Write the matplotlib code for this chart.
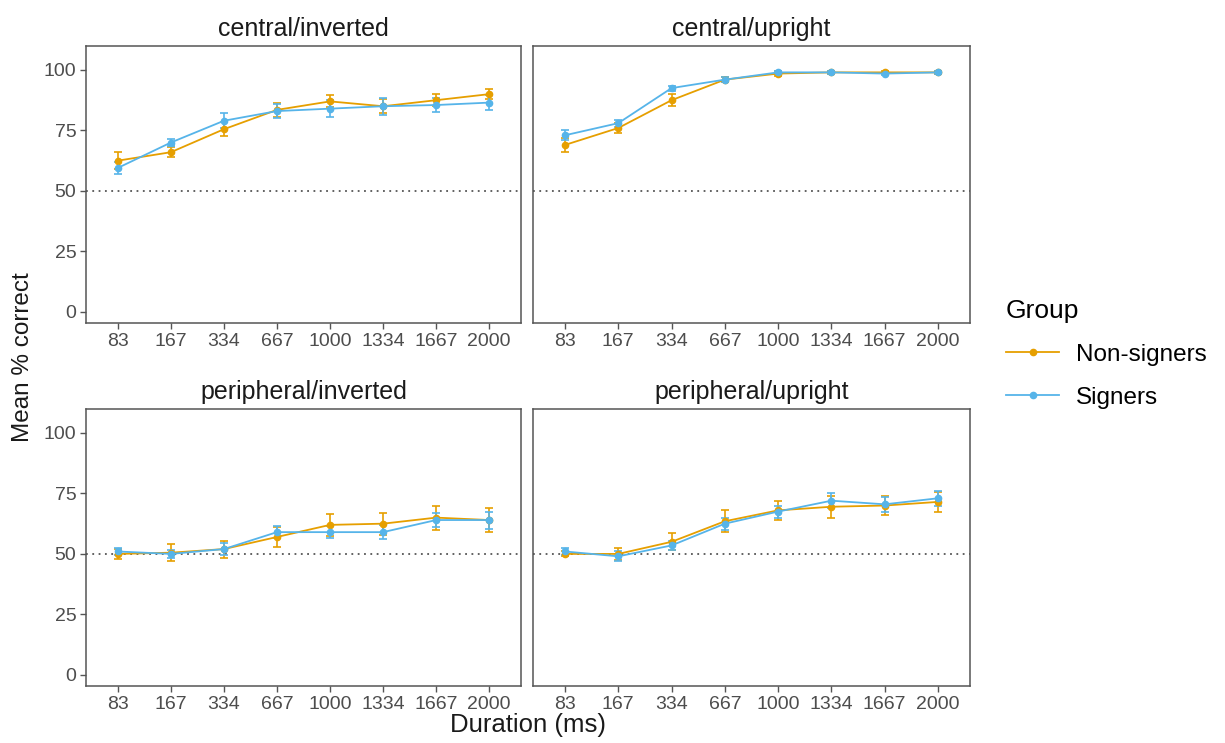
import matplotlib
matplotlib.use('Agg')
import matplotlib.pyplot as plt
import numpy as np
from matplotlib.lines import Line2D

# ----------------------------------------------------------------------------------------------------------------------
# data
durations = ['83', '167', '334', '667', '1000', '1334', '1667', '2000']
panels = ['central/inverted', 'central/upright', 'peripheral/inverted', 'peripheral/upright']
groups = ['Non-signers', 'Signers']
group_colors = ['#E69F00', '#56B4E9']

nonsigners_mean = {
    'central/inverted': [62.5, 66.0, 75.5, 83.5, 87.0, 85.0, 87.5, 90.0],
    'central/upright': [69.0, 76.0, 87.5, 96.0, 98.5, 99.0, 99.0, 99.0],
    'peripheral/inverted': [50.0, 50.5, 52.0, 57.0, 62.0, 62.5, 65.0, 64.0],
    'peripheral/upright': [50.0, 50.0, 55.0, 63.5, 68.0, 69.5, 70.0, 71.5],
}
signers_mean = {
    'central/inverted': [59.5, 70.0, 79.0, 83.0, 84.0, 85.0, 85.5, 86.5],
    'central/upright': [73.0, 78.0, 92.5, 96.0, 99.0, 99.0, 98.5, 99.0],
    'peripheral/inverted': [51.0, 50.0, 52.0, 59.0, 59.0, 59.0, 64.0, 64.0],
    'peripheral/upright': [51.0, 49.0, 53.5, 62.5, 67.5, 72.0, 70.5, 73.0],
}
nonsigners_err = {
    'central/inverted': [3.5, 2.0, 3.0, 3.0, 2.5, 3.0, 2.5, 2.0],
    'central/upright': [3.0, 2.0, 2.5, 1.0, 1.0, 0.5, 0.5, 0.5],
    'peripheral/inverted': [2.0, 3.5, 3.5, 4.0, 4.5, 4.5, 5.0, 5.0],
    'peripheral/upright': [1.0, 2.5, 3.5, 4.5, 4.0, 4.5, 4.0, 4.0],
}
signers_err = {
    'central/inverted': [2.5, 1.5, 3.0, 3.0, 3.5, 3.5, 3.0, 3.0],
    'central/upright': [2.0, 1.5, 1.0, 1.0, 0.5, 0.5, 0.5, 0.5],
    'peripheral/inverted': [1.5, 1.5, 2.5, 2.5, 2.5, 3.0, 3.0, 3.5],
    'peripheral/upright': [1.5, 2.0, 2.0, 2.5, 2.5, 3.0, 3.0, 3.0],
}
y_ticks = [0, 25, 50, 75, 100]
chance_level = 50
# ----------------------------------------------------------------------------------------------------------------------

plt.rcParams['font.family'] = ['Liberation Sans', 'DejaVu Sans']

fig = plt.figure(figsize=(12.25, 7.43), dpi=100)
W, H = 1225.0, 743.0

# panel boxes in pixels (left, top, right, bottom)
boxes = [(86, 46, 521, 323), (533, 46, 970, 323), (86, 409, 521, 686), (533, 409, 970, 686)]

x_pos = np.arange(1, len(durations) + 1)
tick_col = '#4D4D4D'
frame_col = '#555555'

for i_panel, (name, box) in enumerate(zip(panels, boxes)):
    l, t, r, b = box
    ax = fig.add_axes([l / W, 1 - b / H, (r - l) / W, (b - t) / H])

    ax.axhline(chance_level, color='#555555', linestyle=(0, (1, 2.5)), linewidth=1.3, zorder=1)

    for means, errs, color in [(nonsigners_mean, nonsigners_err, group_colors[0]),
                               (signers_mean, signers_err, group_colors[1])]:
        ax.errorbar(x_pos, means[name], yerr=errs[name], color=color, linewidth=1.3,
                    elinewidth=1.2, capsize=3, capthick=1.2, marker='o', markersize=4.5, zorder=3)

    ax.set_xlim(0.4, 8.6)
    ax.set_ylim(-4.6, 109.9)
    ax.set_xticks(x_pos)
    ax.set_xticklabels(durations)
    if i_panel in (1, 3):
        ax.set_yticks([])
    else:
        ax.set_yticks(y_ticks)
    ax.tick_params(axis='both', colors=frame_col, labelcolor=tick_col, labelsize=14,
                   length=4, width=1, pad=3)
    for spine in ax.spines.values():
        spine.set_color(frame_col)
        spine.set_linewidth(1.1)
    ax.set_title(name, fontsize=18, color='#1A1A1A', pad=7)

fig.text(528 / W, 1 - 725 / H, 'Duration (ms)', ha='center', va='center', fontsize=18.5, color='#1A1A1A')
fig.text(23 / W, 1 - 357 / H, 'Mean % correct', ha='center', va='center', rotation=90,
         fontsize=17.5, color='#1A1A1A')

# legend
handles = [Line2D([0], [0], color=c, marker='o', markersize=4.5, linewidth=1.3) for c in group_colors]
leg = fig.legend(handles, groups, title='Group', loc='center left', bbox_to_anchor=(984 / W, 1 - 354 / H),
                 frameon=False, fontsize=17.5, title_fontsize=19, handlelength=2.2, labelspacing=0.85,
                 handletextpad=0.7)
leg._legend_box.align = 'left'

fig.savefig('out.png', dpi=100, facecolor='white')
